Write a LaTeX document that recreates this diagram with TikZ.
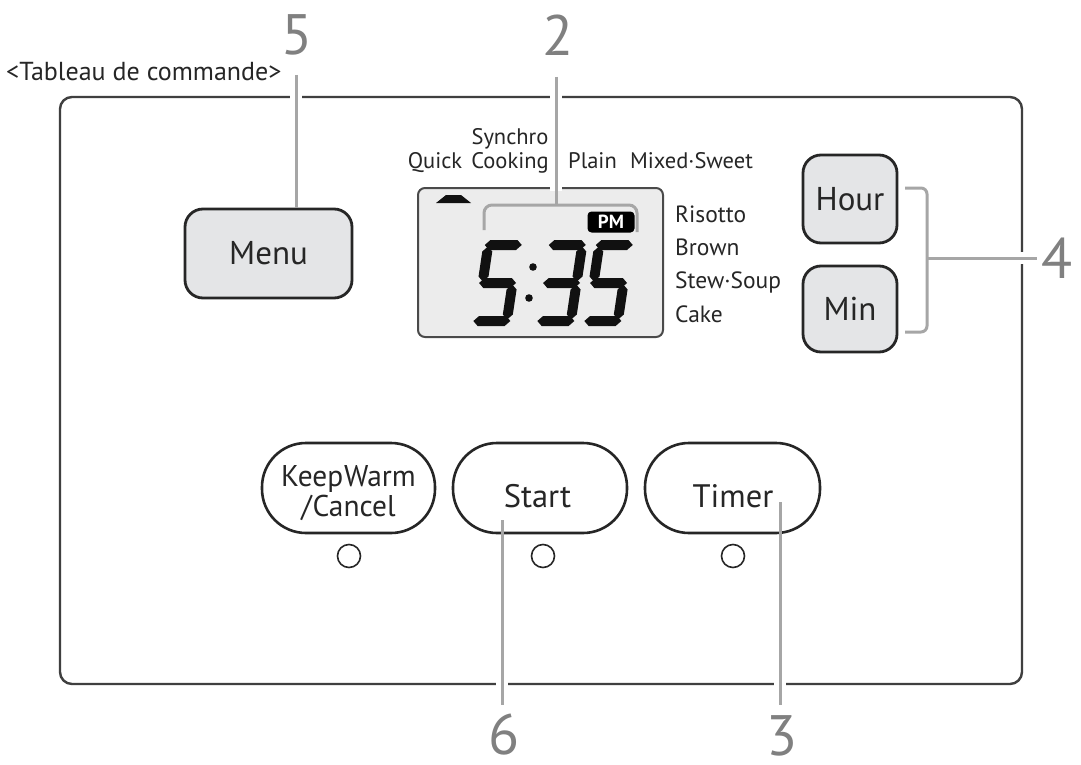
\documentclass[tikz,border=0pt]{standalone}
\usepackage{fontspec}
\setmainfont{PT Sans}
\newfontfamily\narrowfont[FakeStretch=0.98]{PT Sans}
\definecolor{panelc}{HTML}{3F3F3F}
\definecolor{leadc}{HTML}{A6A6A6}
\definecolor{btnfill}{HTML}{E4E5E7}
\definecolor{btnborder}{HTML}{262626}
\definecolor{lcdfill}{HTML}{ECECEC}
\definecolor{lcdborder}{HTML}{4A4A4A}
\definecolor{textc}{HTML}{262626}
\definecolor{numc}{HTML}{808080}
\definecolor{segc}{HTML}{111111}
\newcommand{\hsegm}[1]{\fill[segc] (1.5,#1) -- (6.5,#1-5) -- (33.5,#1-5) -- (38.5,#1) -- (33.5,#1+5) -- (6.5,#1+5) -- cycle;}
\newcommand{\vsegm}[3]{\fill[segc] (#1,#2) -- (#1+5,#2+5) -- (#1+5,#3-5) -- (#1,#3) -- (#1-5,#3-5) -- (#1-5,#2+5) -- cycle;}
\newcommand{\digitfive}{\hsegm{5}\vsegm{5}{6.5}{41.5}\hsegm{43}\vsegm{35}{44.5}{79.5}\hsegm{81}}
\newcommand{\digitthree}{\hsegm{5}\vsegm{35}{6.5}{41.5}\hsegm{43}\vsegm{35}{44.5}{79.5}\hsegm{81}}
\begin{document}
\begin{tikzpicture}[x=1pt,y=-1pt,
  panel/.style={draw=panelc, line width=2.4pt, rounded corners=12pt},
  leader/.style={draw=leadc, line width=3pt},
  gapbox/.style={fill=white, draw=none},
  greybtn/.style={draw=btnborder, line width=2.8pt, fill=btnfill, rounded corners=18pt,
    font=\fontsize{33}{35}\selectfont, text=textc, inner sep=0pt},
  ovalbtn/.style={draw=btnborder, line width=2.6pt, fill=white, rounded corners=44pt,
    inner sep=0pt, minimum height=90pt},
  btntext/.style={text=textc, inner sep=0pt, font=\fontsize{32.5}{34}\selectfont},
  kwtext/.style={text=textc, inner sep=0pt, anchor=base, font=\narrowfont\fontsize{30}{32}\selectfont},
  lamp/.style={circle, draw=btnborder, line width=1.6pt, minimum size=23pt, inner sep=0pt},
  numlbl/.style={text=numc, font=\fontsize{57}{60}\selectfont, inner sep=0pt},
  modelbl/.style={font=\fontsize{22.5}{24}\selectfont, inner sep=0pt, text=textc},
  sidelbl/.style={font=\fontsize{23.5}{25}\selectfont, inner sep=0pt, text=textc, anchor=base west},
  pmbox/.style={fill=black, rounded corners=4pt, text=white, font=\bfseries\fontsize{19}{19}\selectfont,
    minimum width=47pt, minimum height=21pt, inner sep=0pt}
]
\useasboundingbox (0,0) rectangle (1081,765);
\fill[white] (0,0) rectangle (1081,765);

% title
\node[anchor=base west, inner sep=0pt, text=textc, font=\fontsize{26}{28}\selectfont] (title) at (6,81) {<Tableau de commande>};

% panel
\draw[panel] (60,97) rectangle (1022,684);

% LCD
\draw[draw=lcdborder, fill=lcdfill, line width=2pt, rounded corners=7pt] (418,188) rectangle (663,337);
\fill[segc] (436,203) -- (471,203) -- (461,195) -- (446,195) -- cycle;
\node[pmbox] (pm) at (611,222) {PM};
\draw[leader, rounded corners=8pt] (484,230) -- (484,205) -- (637,205) -- (637,232);
\begin{scope}[shift={(484,240)}, xslant=0.15]\digitfive\end{scope}
\begin{scope}[shift={(548,240)}, xslant=0.15]\digitthree\end{scope}
\begin{scope}[shift={(595,240)}, xslant=0.15]\digitfive\end{scope}
\fill[segc] (533,267) circle (3.8);
\fill[segc] (529,298) circle (3.8);

% mode labels
\node[modelbl, anchor=base] (synchro) at (510,145) {Synchro};
\node[modelbl, anchor=base] (quick) at (435,168) {Quick};
\node[modelbl, anchor=base] (cooking) at (510,168) {Cooking};
\node[modelbl, anchor=base] (plain) at (592.5,168) {Plain};
\node[modelbl, anchor=base] (mixed) at (691.5,168) {Mixed·Sweet};
\node[sidelbl] (risotto) at (675,222) {Risotto};
\node[sidelbl] (brown) at (675,255) {Brown};
\node[sidelbl] (stew) at (675,288) {Stew·Soup};
\node[sidelbl] (cake) at (675,322) {Cake};

% grey buttons
\node[greybtn, minimum width=167pt, minimum height=89pt] (menu) at (268.5,253.5) {Menu};
\node[greybtn, minimum width=94pt, minimum height=88pt] (hour) at (850,199) {Hour};
\node[greybtn, minimum width=94pt, minimum height=86pt] (min) at (850,309) {Min};

% oval buttons
\node[ovalbtn, minimum width=173pt] (keep) at (348.5,488) {};
\node[ovalbtn, minimum width=174pt] (start) at (540,488) {};
\node[ovalbtn, minimum width=175pt] (timer) at (732.5,488) {};
\node[kwtext] (keepa) at (348.5,486) {Keep\kern1pt Warm};
\node[kwtext] (keepb) at (348.5,516) {/\kern1pt Cancel};
\node[btntext, anchor=base] (startt) at (537.5,507) {Start};
\node[btntext, anchor=base] (timert) at (733,507) {Timer};
\node[lamp] (lampk) at (349,556) {};
\node[lamp] (lamps) at (543,556) {};
\node[lamp] (lampt) at (733,556) {};

% number labels
\node[numlbl] (n5) at (297,35) {5};
\node[numlbl] (n2) at (558,35) {2};
\node[numlbl] (n4) at (1057,258) {4};
\node[numlbl] (n6) at (504,735) {6};
\node[numlbl] (n3) at (782,736) {3};

\coordinate (l5) at (296,75);
\coordinate (l2) at (556,77);
\coordinate (l6top) at (502,520);
\coordinate (l6) at (502,705);
\coordinate (l3top) at (780,502);
\coordinate (l3) at (780,705);
\coordinate (l4) at (1037,258);
\coordinate (b4) at (927,258);

% gaps where leaders cross borders
\fill[gapbox] (290,94) rectangle (302,100);
\fill[gapbox] (550,94) rectangle (562,100);
\fill[gapbox] (550,185) rectangle (562,191);
\fill[gapbox] (1019,252) rectangle (1025,264);
\fill[gapbox] (496,681) rectangle (508,687);
\fill[gapbox] (774,681) rectangle (786,687);

% leaders
\draw[leader] (l5) -- (l5 |- menu.north);
\draw[leader] (l2) -- (556,205);
\draw[leader] (l6top) -- (l6);
\draw[leader] (l3top) -- (l3);
\draw[leader, rounded corners=6pt] (905,188) -- (927,188) -- (927,332) -- (905,332);
\draw[leader] (b4) -- (l4);
\end{tikzpicture}
\end{document}
